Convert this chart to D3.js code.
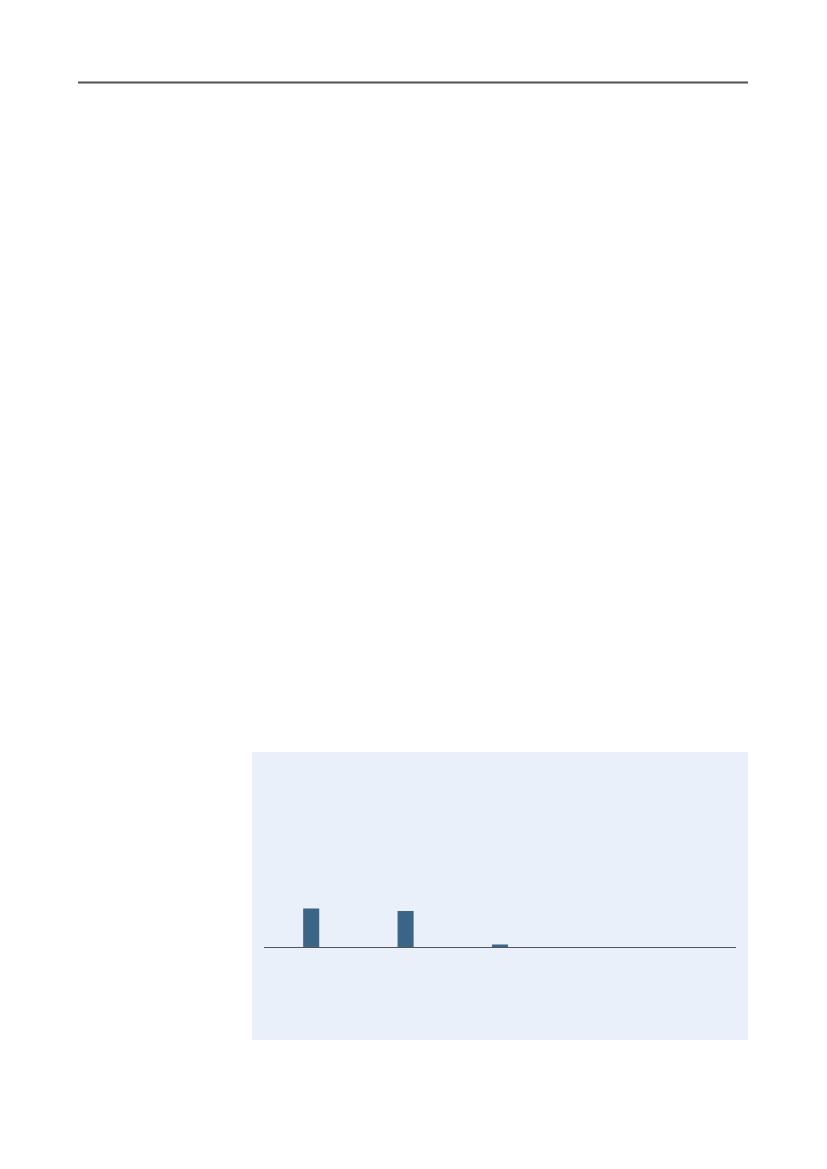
<!DOCTYPE html>
<html>
<head>
<meta charset="utf-8">
<script src="https://cdn.jsdelivr.net/npm/d3@7"></script>
<style>
  html, body { margin: 0; padding: 0; background: #ffffff; }
  svg { display: block; }
</style>
</head>
<body>
<script>
const categories = ["A", "B", "C", "D", "E"];
const values = [39, 36.5, 3, 0, 0];

const W = 827, H = 1169;
const svg = d3.select("body").append("svg")
  .attr("width", W).attr("height", H);

// page rule
svg.append("line")
  .attr("x1", 78).attr("x2", 748)
  .attr("y1", 82.5).attr("y2", 82.5)
  .attr("stroke", "#505050").attr("stroke-width", 2);

// panel
svg.append("rect")
  .attr("x", 252).attr("y", 752)
  .attr("width", 496).attr("height", 288)
  .attr("fill", "#e9f0fa");

const x = d3.scaleBand()
  .domain(categories)
  .range([264, 736])
  .paddingInner(0.83)
  .paddingOuter(0.415);

const y = d3.scaleLinear()
  .domain([0, 160])
  .range([947.5, 787.5]);

svg.append("g").selectAll("rect")
  .data(values)
  .join("rect")
  .attr("x", (d, i) => x(categories[i]))
  .attr("width", x.bandwidth())
  .attr("y", d => y(d))
  .attr("height", d => y(0) - y(d))
  .attr("fill", "#3a6587");

svg.append("line")
  .attr("x1", x.range()[0]).attr("x2", x.range()[1])
  .attr("y1", y(0)).attr("y2", y(0))
  .attr("stroke", "#555555").attr("stroke-width", 1.2);
</script>
</body>
</html>
